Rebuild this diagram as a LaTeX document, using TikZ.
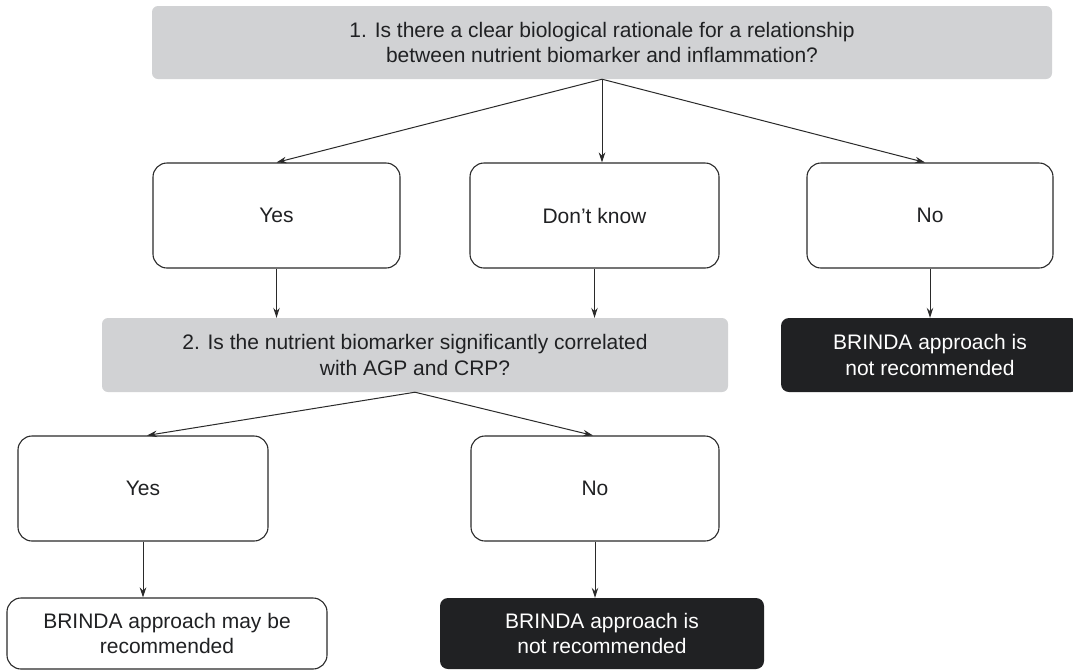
\documentclass[tikz,border=0pt]{standalone}
\usepackage{fontspec}
\setmainfont{Liberation Sans}
\usetikzlibrary{arrows.meta}
\definecolor{qgray}{HTML}{D1D2D4}
\definecolor{dark}{HTML}{202123}
\definecolor{linec}{HTML}{2A2A2A}
\begin{document}
\begin{tikzpicture}[x=1pt,y=-1pt,
  every node/.style={font=\fontsize{21}{25.5}\selectfont, align=center, inner sep=0pt, text=dark},
  qbox/.style={rectangle, rounded corners=6pt, fill=qgray, draw=none},
  abox/.style={rectangle, rounded corners=14pt, draw=linec, line width=1.1pt, fill=white},
  rbox/.style={rectangle, rounded corners=14pt, draw=linec, line width=1.1pt, fill=white},
  nbox/.style={rectangle, rounded corners=8pt, fill=dark, draw=none, text=white},
  arr/.style={draw=linec, line width=1pt, -{Stealth[length=10pt,width=6.5pt]}}
]
\path[use as bounding box, fill=white] (0,0) rectangle (1073,670);

\node[qbox, minimum width=900pt, minimum height=73pt] (top) at (602,42.5)
  {1. Is there a clear biological rationale for a relationship\\between nutrient biomarker and inflammation?};

\node[abox, minimum width=247pt, minimum height=105pt] (yes1) at (276.5,215.5) {Yes};
\node[abox, minimum width=249pt, minimum height=105pt] (dk) at (594.5,215.5) {Don’t know};
\node[abox, minimum width=246pt, minimum height=105pt] (no1) at (930,215.5) {No};

\node[qbox, minimum width=626pt, minimum height=74pt] (q2) at (415,355)
  {2. Is the nutrient biomarker significantly correlated\\with AGP and CRP?};
\node[nbox, minimum width=298pt, minimum height=74pt] (bl1) at (930,355)
  {BRINDA approach is\\not recommended};

\node[abox, minimum width=250pt, minimum height=105pt] (yes2) at (143,488.5) {Yes};
\node[abox, minimum width=248pt, minimum height=105pt] (no2) at (595,488.5) {No};

\node[rbox, minimum width=320pt, minimum height=71pt] (rec) at (167,633.5)
  {BRINDA approach may be\\recommended};
\node[nbox, minimum width=324pt, minimum height=71pt] (bl2) at (602,633.5)
  {BRINDA approach is\\not recommended};

\draw[arr] (top.south) -- (yes1.north);
\draw[arr] (top.south) -- (top.south |- dk.north);
\draw[arr] (top.south) -- ([xshift=-5pt]no1.north);
\draw[arr] (yes1.south) -- (yes1.south |- q2.north);
\draw[arr] (dk.south) -- (dk.south |- q2.north);
\draw[arr] (no1.south) -- (bl1.north);
\draw[arr] (q2.south) -- ([xshift=4pt]yes2.north);
\draw[arr] (q2.south) -- ([xshift=-2pt]no2.north);
\draw[arr] (yes2.south) -- (yes2.south |- rec.north);
\draw[arr] (no2.south) -- (no2.south |- bl2.north);
\end{tikzpicture}
\end{document}
